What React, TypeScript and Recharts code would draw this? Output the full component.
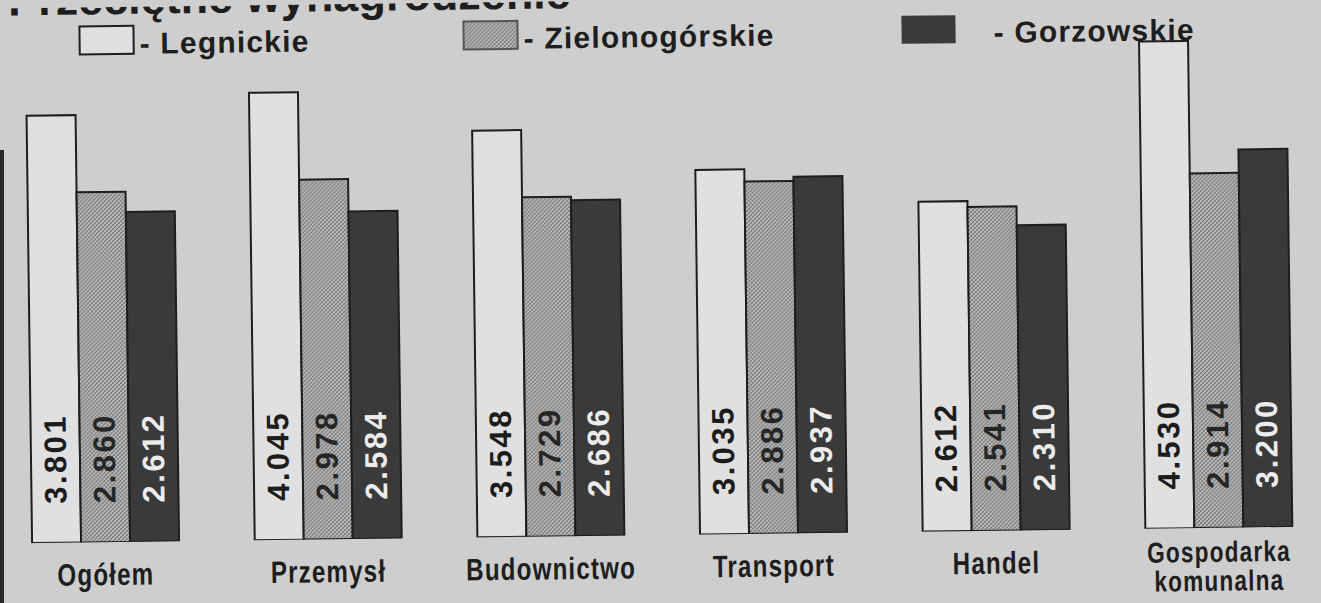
import React from "react";
import { BarChart, Bar, XAxis, YAxis, LabelList } from "recharts";

// przeciętne wynagrodzenie (tys.) wg województw
const categories = ["Ogółem", "Przemysł", "Budownictwo", "Transport", "Handel", "Gospodarka\nkomunalna"];
const legnickie = [3.801, 4.045, 3.548, 3.035, 2.612, 4.53];
const zielonogorskie = [2.86, 2.978, 2.729, 2.886, 2.541, 2.914];
const gorzowskie = [2.612, 2.584, 2.686, 2.937, 2.31, 3.2];

// the printed chart does not start its bars at zero
const AXIS_FLOOR = -1.41;
const AXIS_TOP = 4.82;

const series = [
  { key: "leg", name: "Legnickie", values: legnickie, fill: "#e0e0e0", text: "#1c1c1c" },
  { key: "zie", name: "Zielonogórskie", values: zielonogorskie, fill: "url(#hatch)", text: "#262626" },
  { key: "gor", name: "Gorzowskie", values: gorzowskie, fill: "#3a3a3a", text: "#ececec" },
];

const data = categories.map((name, i) => {
  const row: any = { name };
  series.forEach((s) => {
    row[s.key] = [AXIS_FLOOR, s.values[i]];
  });
  return row;
});

const BG = "#cecece";
const INK = "#1e1e1e";
const FONT = "'Liberation Sans', Arial, sans-serif";

// legend placement taken from the print
const legendPos = [
  { box: 83, text: 143 },
  { box: 467, text: 527 },
  { box: 905, text: 997 },
];

function CategoryTick({ x, y, payload }: any) {
  const lines = String(payload.value).split("\n");
  const first = lines.length > 1 ? 34 : 43;
  return (
    <g transform={`translate(${x},${y}) scale(0.78,1)`}>
      <text
        x={0}
        y={0}
        textAnchor="middle"
        fill={INK}
        fontFamily={FONT}
        fontWeight="bold"
        fontSize={lines.length > 1 ? 29 : 31}
        letterSpacing={1.5}
      >
        {lines.map((l, i) => (
          <tspan key={i} x={0} y={first + i * 29}>
            {l}
          </tspan>
        ))}
      </text>
    </g>
  );
}

function valueLabel(color: string, values: number[]) {
  return (props: any) => {
    const { x, y, width, height, index } = props;
    const cx = Number(x) + Number(width) / 2;
    const cy = Number(y) + Number(height) - 84;
    return (
      <text
        x={cx}
        y={cy}
        transform={`rotate(-90, ${cx}, ${cy})`}
        textAnchor="middle"
        dominantBaseline="central"
        fill={color}
        fontFamily={FONT}
        fontWeight="bold"
        fontSize={31}
        letterSpacing={2.5}
      >
        {values[index].toFixed(3)}
      </text>
    );
  };
}

export default function App() {
  return (
    <div
      style={{
        position: "absolute",
        left: 0,
        top: 0,
        width: 1321,
        height: 603,
        overflow: "hidden",
        background: BG,
      }}
    >
      <svg width={0} height={0} style={{ position: "absolute" }}>
        <defs>
          <pattern id="hatch" patternUnits="userSpaceOnUse" width={4} height={4}>
            <rect width={4} height={4} fill="#b9b9b9" />
            <path d="M0,4 L4,0 M-1,1 L1,-1 M3,5 L5,3" stroke="#6c6c6c" strokeWidth={1} />
            <path d="M0,0 L4,4" stroke="#8a8a8a" strokeWidth={0.7} />
          </pattern>
        </defs>
      </svg>

      <div style={{ position: "absolute", left: 0, top: 150, width: 4, height: 453, background: "#2a2a2a" }} />

      <div
        style={{
          position: "absolute",
          left: 0,
          top: 0,
          width: 1321,
          height: 603,
          transform: "rotate(-0.74deg)",
          transformOrigin: "660px 300px",
        }}
      >
        <div style={{ position: "absolute", left: -12, top: 0 }}>
          <BarChart
            width={1345}
            height={603}
            data={data}
            margin={{ top: 24, right: 6, left: 3, bottom: 0 }}
            barGap={0}
          >
            <XAxis
              dataKey="name"
              axisLine={false}
              tickLine={false}
              tickSize={0}
              tickMargin={0}
              interval={0}
              height={68}
              tick={<CategoryTick />}
            />
            <YAxis hide type="number" domain={[AXIS_FLOOR, AXIS_TOP]} allowDataOverflow />
            {series.map((s) => (
              <Bar
                key={s.key}
                dataKey={s.key}
                name={s.name}
                fill={s.fill}
                stroke={INK}
                strokeWidth={2}
                barSize={49}
                isAnimationActive={false}
              >
                <LabelList dataKey={s.key} content={valueLabel(s.text, s.values)} />
              </Bar>
            ))}
          </BarChart>
        </div>

        <svg width={1321} height={603} style={{ position: "absolute", left: 0, top: 0, pointerEvents: "none" }}>
          <text x={12} y={7} fill={INK} fontFamily={FONT} fontWeight="bold" fontSize={45}>
            Przeciętne wynagrodzenie
          </text>
          {series.map((s, i) => (
            <g key={s.key}>
              <rect
                x={legendPos[i].box}
                y={19}
                width={54}
                height={28}
                fill={s.fill}
                stroke={i === 1 ? "#555" : INK}
                strokeWidth={i === 2 ? 0 : 2}
              />
              <text
                x={legendPos[i].text}
                y={47}
                fill={INK}
                fontFamily={FONT}
                fontWeight="bold"
                fontSize={30}
                letterSpacing={1.2}
              >
                {"- " + s.name}
              </text>
            </g>
          ))}
        </svg>
      </div>
    </div>
  );
}
